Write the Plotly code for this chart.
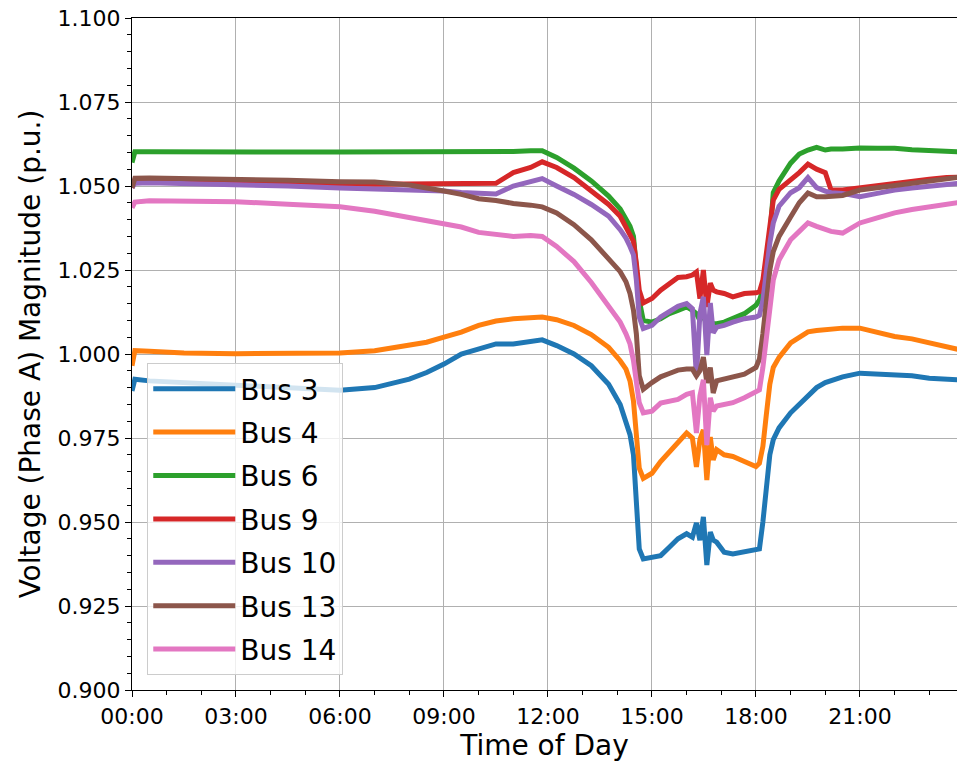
import plotly.graph_objects as go

DAY = "2021-01-01 "

times = ["00:00","00:05","00:30","01:30","03:00","04:30","06:00","07:00","08:00","08:30",
         "09:00","09:30","10:00","10:30","11:00","11:30","11:50","12:15","12:45","13:15",
         "13:45","14:05","14:15","14:22","14:28","14:33","14:38","14:45","15:00","15:15",
         "15:30","15:45","16:00","16:10","16:17","16:23","16:29","16:35","16:41","16:46",
         "16:52","17:05","17:20","17:40","18:00","18:06","18:12","18:18","18:24","18:30",
         "18:40","19:00","19:15","19:30","19:45","20:00","20:10","20:30","21:00","21:30",
         "22:00","22:30","23:00","23:30","23:59"]

bus3 = [0.989, 0.9925, 0.992, 0.9915, 0.9905, 0.9897, 0.9892, 0.990, 0.9925, 0.9945,
        0.997, 1.000, 1.0015, 1.003, 1.003, 1.0035, 1.0042, 1.0025, 1.000, 0.9965,
        0.991, 0.985, 0.980, 0.976, 0.970, 0.955, 0.942, 0.939, 0.9395, 0.940,
        0.9425, 0.945, 0.9465, 0.9455, 0.9497, 0.9446, 0.9515, 0.9372, 0.947, 0.9446,
        0.944, 0.941, 0.9405, 0.941, 0.9415, 0.942, 0.950, 0.960, 0.970, 0.9745,
        0.978, 0.9825, 0.985, 0.9872, 0.990, 0.9915, 0.992, 0.9932, 0.9943, 0.994,
        0.9938, 0.9935, 0.9928, 0.9925, 0.9922]

bus4 = [0.9965, 1.001, 1.0008, 1.0003, 1.0001, 1.0001, 1.0003, 1.001, 1.0025, 1.0035,
        1.005, 1.0065, 1.0085, 1.0098, 1.0105, 1.0107, 1.011, 1.0102, 1.0085, 1.0058,
        1.002, 0.998, 0.9955, 0.992, 0.986, 0.976, 0.966, 0.963, 0.9645, 0.968,
        0.971, 0.974, 0.9765, 0.975, 0.9664, 0.9745, 0.9774, 0.9625, 0.9753, 0.9685,
        0.9715, 0.970, 0.9695, 0.968, 0.9665, 0.9675, 0.9725, 0.982, 0.991, 0.996,
        0.999, 1.0033, 1.005, 1.0066, 1.007, 1.0073, 1.0075, 1.0077, 1.0077, 1.0063,
        1.0052, 1.0045, 1.0033, 1.002, 1.001]

bus6 = [1.057, 1.0602, 1.0602, 1.0601, 1.0601, 1.0601, 1.0601, 1.0601, 1.0601, 1.0601,
        1.060, 1.0601, 1.0601, 1.0602, 1.0603, 1.0605, 1.0605, 1.0585, 1.0553, 1.0515,
        1.047, 1.0432, 1.0405, 1.038, 1.035, 1.027, 1.016, 1.010, 1.0095, 1.0105,
        1.012, 1.013, 1.014, 1.013, 1.012, 1.010, 1.012, 1.009, 1.010, 1.009,
        1.009, 1.0095, 1.0105, 1.012, 1.0145, 1.016, 1.019, 1.027, 1.035, 1.048,
        1.0515, 1.0568, 1.0595, 1.0607, 1.0615, 1.0607, 1.061, 1.061, 1.0613, 1.0612,
        1.0612, 1.0608, 1.0605, 1.0603, 1.0601]

bus9 = [1.0495, 1.0515, 1.0515, 1.0514, 1.0513, 1.051, 1.0507, 1.0505, 1.0505, 1.0507,
        1.0505, 1.0505, 1.0505, 1.0508, 1.054, 1.0555, 1.0572, 1.0555, 1.0525, 1.0485,
        1.0445, 1.041, 1.038, 1.036, 1.0335, 1.027, 1.019, 1.0152, 1.0165, 1.019,
        1.021, 1.0228, 1.023, 1.0235, 1.0244, 1.0165, 1.025, 1.014, 1.0211, 1.019,
        1.0185, 1.018, 1.017, 1.018, 1.0182, 1.0185, 1.022, 1.031, 1.040, 1.0458,
        1.049, 1.0518, 1.054, 1.0565, 1.055, 1.054, 1.0488, 1.0488, 1.0495, 1.050,
        1.0508, 1.0513, 1.052, 1.0525, 1.0527]

bus10 = [1.0495, 1.0508, 1.051, 1.0508, 1.0506, 1.050, 1.0494, 1.0492, 1.0488, 1.0487,
         1.0485, 1.0481, 1.0479, 1.0476, 1.050, 1.0512, 1.0522, 1.050, 1.0475, 1.0445,
         1.041, 1.037, 1.0345, 1.032, 1.0295, 1.022, 1.011, 1.0076, 1.0085, 1.011,
         1.0125, 1.0142, 1.015, 1.0135, 0.9933, 1.012, 1.017, 0.9997, 1.0152, 1.0063,
         1.008, 1.0085, 1.0095, 1.0105, 1.011, 1.0115, 1.016, 1.025, 1.033, 1.039,
         1.044, 1.048, 1.0495, 1.0525, 1.0495, 1.0485, 1.048, 1.0478, 1.0468, 1.0478,
         1.0488, 1.0494, 1.050, 1.0505, 1.0509]

bus13 = [1.0495, 1.0523, 1.0524, 1.0523, 1.052, 1.0517, 1.0513, 1.0512, 1.0503, 1.0495,
         1.0485, 1.0475, 1.0462, 1.0457, 1.0448, 1.0443, 1.0438, 1.042, 1.0385, 1.034,
         1.0283, 1.0245, 1.0215, 1.018, 1.013, 1.006, 0.9935, 0.9895, 0.9915, 0.9932,
         0.9942, 0.9952, 0.9955, 0.9955, 0.9935, 0.995, 0.9991, 0.9914, 0.996, 0.9884,
         0.992, 0.9925, 0.993, 0.994, 0.996, 0.9985, 1.006, 1.016, 1.025, 1.0305,
         1.035, 1.0408, 1.045, 1.0479, 1.0468, 1.0468, 1.047, 1.0472, 1.0488, 1.0495,
         1.0503, 1.051, 1.0517, 1.0524, 1.0528]

bus14 = [1.0435, 1.0452, 1.0456, 1.0455, 1.0453, 1.0446, 1.0438, 1.0425, 1.0407, 1.0398,
         1.039, 1.0378, 1.0362, 1.0355, 1.035, 1.0353, 1.035, 1.032, 1.0275, 1.0213,
         1.0142, 1.0095, 1.006, 1.003, 0.998, 0.991, 0.9855, 0.9825, 0.983, 0.9854,
         0.986, 0.9865, 0.988, 0.9885, 0.9765, 0.9875, 0.9923, 0.9729, 0.987, 0.983,
         0.9845, 0.985, 0.9855, 0.987, 0.9885, 0.9893, 0.996, 1.005, 1.015, 1.022,
         1.028, 1.034, 1.0365, 1.039, 1.038, 1.0369, 1.0365, 1.036, 1.039, 1.0405,
         1.042, 1.043, 1.0438, 1.0448, 1.0453]

series_names = ["Bus 3", "Bus 4", "Bus 6", "Bus 9", "Bus 10", "Bus 13", "Bus 14"]
series_values = [bus3, bus4, bus6, bus9, bus10, bus13, bus14]
colors = ["#1f77b4", "#ff7f0e", "#2ca02c", "#d62728", "#9467bd", "#8c564b", "#e377c2"]

x_dates = [DAY + t for t in times]

fig = go.Figure()
for name, vals, col in zip(series_names, series_values, colors):
    fig.add_trace(go.Scatter(
        x=x_dates, y=vals, mode="lines", name=name, legendgroup=name,
        line=dict(color=col, width=5),
    ))

axis_common = dict(
    showline=True, linecolor="black", linewidth=1.3,
    ticks="outside", ticklen=6, tickwidth=1.3, tickcolor="black",
    showgrid=True, gridcolor="#b0b0b0", gridwidth=1,
    zeroline=False, tickfont=dict(size=22, color="black"),
)

fig.update_layout(
    width=957, height=766,
    margin=dict(l=132, r=0, t=18, b=76),
    paper_bgcolor="white", plot_bgcolor="white",
    font=dict(family="DejaVu Sans", color="black"),
    showlegend=True,
    legend=dict(
        x=0.0185, y=0.4866, xanchor="left", yanchor="top",
        bgcolor="rgba(255,255,255,0.8)", bordercolor="#cccccc", borderwidth=1,
        font=dict(size=28, color="black"), tracegroupgap=4, itemwidth=82,
    ),
    xaxis=dict(
        type="date",
        range=[DAY + "00:00", DAY + "23:48"],
        tick0=DAY + "00:00", dtick=3 * 3600000, tickformat="%H:%M",
        mirror=True,
        minor=dict(dtick=3600000, ticks="outside", ticklen=3.5, tickcolor="black", showgrid=False),
        title=dict(text="Time of Day", font=dict(size=28), standoff=6),
        **axis_common,
    ),
    yaxis=dict(
        range=[0.9, 1.1], tick0=0.9, dtick=0.025, tickformat=".3f",
        minor=dict(dtick=0.005, ticks="outside", ticklen=3.5, tickcolor="black", showgrid=False),
        title=dict(text="Voltage (Phase A) Magnitude (p.u.)", font=dict(size=28), standoff=8),
        **axis_common,
    ),
)

fig.write_html(
    "out.html",
    config={"displayModeBar": False},
    post_script="document.body.style.margin='0';document.body.style.padding='0';document.body.style.overflow='hidden';",
)
